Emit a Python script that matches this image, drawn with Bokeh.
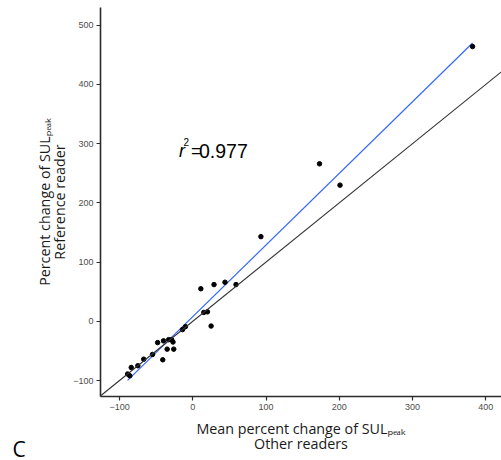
import numpy as np
from bokeh.plotting import figure
from bokeh.models import Range1d, Slope, Label, FixedTicker, Title
from bokeh.embed import file_html
from bokeh.resources import INLINE

# Data
other_readers = [-89, -86, -84, -75, -67, -55, -48, -40, -41, -35, -33, -29, -27, -26,
                 -14, -10, 11, 15, 20, 25, 29, 44, 59, 93, 173, 201, 382]
reference_reader = [-89, -92, -78, -75, -64, -56, -36, -33, -65, -47, -31, -31, -35, -47,
                    -14, -9, 55, 15, 16, -8, 62, 66, 62, 143, 266, 230, 464]
x_ticks = [-100, 0, 100, 200, 300, 400]
y_ticks = [-100, 0, 100, 200, 300, 400, 500]
r2_text = "0.977"
SUB = "\u209a\u2091\u2090\u2096"  # subscript "peak"
x_title = "Mean percent change of SUL" + SUB + "\nOther readers"
y_title = "Percent change of SUL" + SUB + "\nReference reader"

W, H = 501, 460
L, R, T, B = 100, 0, 7, 64

p = figure(width=W, height=H, output_backend="svg", toolbar_location=None,
           x_range=Range1d(-126, 421.5), y_range=Range1d(-127, 530),
           min_border_left=L, min_border_right=R, min_border_top=T, min_border_bottom=B,
           title=None)
p.outline_line_color = None
p.grid.visible = False
p.background_fill_color = "white"
p.border_fill_color = "white"

for ax, ticks, title in ((p.xaxis, x_ticks, x_title), (p.yaxis, y_ticks, y_title)):
    ax.ticker = FixedTicker(ticks=ticks)
    ax.axis_line_color = "#2b2b2b"
    ax.axis_line_width = 1.6
    ax.major_tick_line_color = "#2b2b2b"
    ax.major_tick_line_width = 1.2
    ax.major_tick_out = 4
    ax.major_tick_in = 0
    ax.minor_tick_line_color = None
    ax.major_label_text_font = "Liberation Sans"
    ax.major_label_text_font_size = "9px"
    ax.major_label_text_color = "#4d4d4d"
    ax.major_label_standoff = 3
    ax.axis_label = title
    ax.axis_label_text_font = "Open Sans"
    ax.axis_label_text_font_size = "14.3px"
    ax.axis_label_text_font_style = "normal"
    ax.axis_label_text_color = "#1a1a1a"
    ax.axis_label_text_line_height = 0.8

p.yaxis.axis_label_standoff = 1
p.xaxis.axis_label_standoff = 6

# identity line
p.add_layout(Slope(gradient=1, y_intercept=0, line_color="#333333", line_width=1.1))

# regression line
xa = np.array(other_readers, dtype=float)
ya = np.array(reference_reader, dtype=float)
k, b = np.polyfit(xa, ya, 1)
xl = np.array([xa.min(), xa.max()])
p.line(xl, k * xl + b, line_color="#3366FF", line_width=1.2)

p.scatter(other_readers, reference_reader, size=4.5, color="black")

def lab(text, cx, cy, size, font="Liberation Sans", align="left", style="normal"):
    p.add_layout(Label(x=cx - L, y=(H - B) - cy, x_units="screen", y_units="screen",
                       text=text, text_font=font, text_font_size=f"{size}px",
                       text_align=align, text_baseline="alphabetic",
                       text_font_style=style, text_color="black"))

# r^2 annotation
lab("r", 178.5, 150.5, 18, style="italic")
lab("2", 183, 141.5, 10)
lab("=", 190.5, 150.5, 18)
lab(r2_text, 198.5, 150.5, 19.5)

# panel letter
p.add_layout(Title(text="C", align="left", offset=-88, text_font="Open Sans",
                   text_font_size="21px", text_font_style="normal", text_color="black",
                   vertical_align="top", standoff=-41), "below")

open("out.html", "w").write(file_html(p, INLINE))
